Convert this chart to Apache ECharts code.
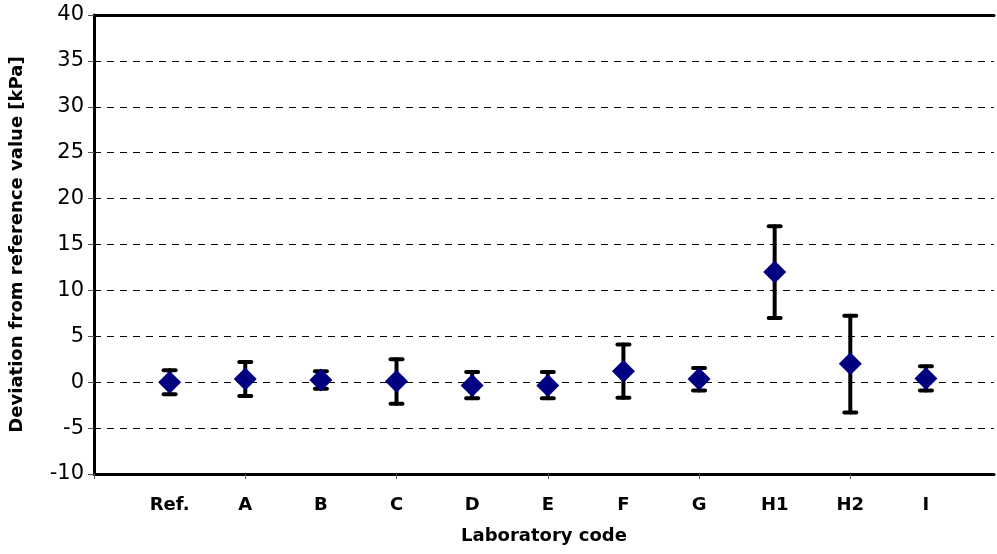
<!DOCTYPE html>
<html>
<head>
<meta charset="utf-8">
<script src="https://cdn.jsdelivr.net/npm/echarts@6/dist/echarts.min.js"></script>
<style>
html, body { margin: 0; padding: 0; background: #fff; }
#chart { width: 997px; height: 554px; }
</style>
</head>
<body>
<div id="chart"></div>
<script>
var labs = ['Ref.', 'A', 'B', 'C', 'D', 'E', 'F', 'G', 'H1', 'H2', 'I'];
var values = [0, 0.35, 0.25, 0.1, -0.35, -0.35, 1.2, 0.35, 12, 2.0, 0.4];
var lows = [-1.3, -1.5, -0.7, -2.35, -1.75, -1.75, -1.7, -0.9, 7, -3.3, -0.9];
var highs = [1.3, 2.2, 1.2, 2.5, 1.1, 1.1, 4.1, 1.55, 17, 7.25, 1.75];
var xTicks = [0, 2, 4, 6, 8, 10];

var points = [];
var bars = [];
for (var i = 0; i < labs.length; i++) {
    points.push([i + 1, values[i]]);
    bars.push([i + 1, lows[i], highs[i]]);
}

var font = 'DejaVu Sans, sans-serif';
var xMax = 11.9;
var dom = document.getElementById('chart');
var myChart = echarts.init(dom);

function renderErrorBar(params, api) {
    var x = api.value(0);
    var lo = api.coord([x, api.value(1)]);
    var hi = api.coord([x, api.value(2)]);
    var half = 6;
    var style = { stroke: '#000', lineWidth: 4, lineCap: 'round' };
    return {
        type: 'group',
        children: [
            { type: 'line', shape: { x1: lo[0], y1: lo[1], x2: hi[0], y2: hi[1] }, style: style },
            { type: 'line', shape: { x1: hi[0] - half, y1: hi[1], x2: hi[0] + half, y2: hi[1] }, style: style },
            { type: 'line', shape: { x1: lo[0] - half, y1: lo[1], x2: lo[0] + half, y2: lo[1] }, style: style }
        ]
    };
}

var option = {
    animation: false,
    grid: {
        left: 94,
        top: 15,
        right: 0,
        bottom: 80
    },
    xAxis: [{
        type: 'value',
        min: 0,
        max: xMax,
        interval: 2,
        name: 'Laboratory code',
        nameLocation: 'middle',
        nameGap: 53,
        nameTextStyle: { fontFamily: font, fontSize: 18, fontWeight: 'bold', color: '#000' },
        axisLine: { show: true, onZero: false, lineStyle: { color: '#000', width: 3 } },
        axisTick: { show: true, length: 5, customValues: xTicks, lineStyle: { color: '#555', width: 1 } },
        axisLabel: { show: false },
        splitLine: { show: false }
    }, {
        type: 'value',
        position: 'bottom',
        min: 0,
        max: xMax,
        interval: 1,
        axisLine: { show: false },
        axisTick: { show: false },
        splitLine: { show: false },
        axisLabel: {
            margin: 22,
            fontFamily: font,
            fontSize: 18,
            fontWeight: 'bold',
            color: '#000',
            formatter: function (v) {
                var k = Math.round(v);
                if (Math.abs(v - k) > 1e-6 || k < 1 || k > labs.length) return '';
                return labs[k - 1];
            }
        }
    }, {
        type: 'value',
        position: 'top',
        min: 0,
        max: xMax,
        axisLine: { show: true, onZero: false, lineStyle: { color: '#000', width: 3 } },
        axisTick: { show: false },
        axisLabel: { show: false },
        splitLine: { show: false }
    }],
    yAxis: {
        type: 'value',
        min: -10,
        max: 40,
        interval: 5,
        name: 'Deviation from reference value [kPa]',
        nameLocation: 'middle',
        nameGap: 68,
        nameTextStyle: { fontFamily: font, fontSize: 18, fontWeight: 'bold', color: '#000' },
        axisLine: { show: true, lineStyle: { color: '#000', width: 3 } },
        axisTick: { show: true, length: 6, lineStyle: { color: '#555', width: 1 } },
        axisLabel: { margin: 10, fontFamily: font, fontSize: 21, color: '#000' },
        splitLine: { show: true, lineStyle: { color: '#000', width: 1, type: [7, 6] } }
    },
    series: [{
        type: 'custom',
        xAxisIndex: 0,
        renderItem: renderErrorBar,
        encode: { x: 0, y: [1, 2] },
        data: bars,
        z: 2
    }, {
        type: 'scatter',
        xAxisIndex: 0,
        symbol: 'diamond',
        symbolSize: 23,
        itemStyle: { color: '#000080', opacity: 1 },
        data: points,
        z: 3
    }]
};
if (option && typeof option === "object") {
    myChart.setOption(option, true);
}
</script>
</body>
</html>
